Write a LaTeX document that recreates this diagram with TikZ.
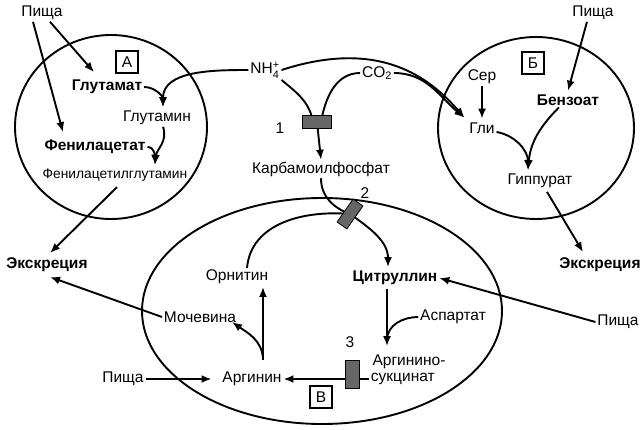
\documentclass[tikz,border=0pt]{standalone}
\usepackage{amsmath}
\usepackage{fontspec}
\setmainfont{Liberation Sans}
\usetikzlibrary{arrows.meta,backgrounds}

\begin{document}
\begin{tikzpicture}[x=1pt,y=1pt,line width=1.9pt,
	every node/.style={font=\fontsize{15.5}{17}\selectfont, inner sep=1pt},
	every on background layer/.style={line width=1.9pt},
	bld/.style={font=\fontsize{15.5}{17}\selectfont\bfseries},
	ar/.style={-{Latex[length=10pt,width=8pt]}},
	enz/.style={draw, fill=black!60, line width=0.8pt, minimum width=29pt, minimum height=13pt, inner sep=0pt},
	tag/.style={draw, line width=1.4pt, minimum size=22pt, inner sep=0pt}]
\useasboundingbox (0,0) rectangle (644,-430);

% three cells
\draw (111,-127) ellipse (96 and 92);
\draw (536,-128) ellipse (98 and 91);
\draw (322,-311) ellipse (180 and 113);

% cell A
\node (pishaA) at (42,-13) {Пища};
\node [tag] (boxA) at (127,-62) {А};
\node [bld] (glutamat) at (107,-87) {Глутамат};
\node (glutamin) at (157,-118) {Глутамин};
\node [bld] (fenilacetat) at (95,-147) {Фенилацетат};
\node [font=\fontsize{13.8}{15}\selectfont] (fag) at (115,-175) {Фенилацетилглутамин};
\node [bld] (excrL) at (47,-265) {Экскреция};

% middle
\node (nh4) at (265,-70) {NH$^{\text{+}}_{\text{4}}$};
\node (co2) at (377,-73) {CO$_{\text{2}}$};
\node [enz] (enz1) at (317,-122) {};
\node (n1) at (280,-128) {1};
\node (karb) at (321,-169) {Карбамоилфосфат};

% cell B
\node [tag] (boxB) at (533,-63) {Б};
\node (pishaB) at (593,-13) {Пища};
\node (ser) at (482,-77) {Сер};
\node (gli) at (482,-128) {Гли};
\node [bld] (benzoat) at (568,-100) {Бензоат};
\node (gippurat) at (540,-181) {Гиппурат};
\node [bld] (excrR) at (600,-265) {Экскреция};

% cell V
\node [enz, minimum width=28pt, minimum height=12pt, rotate=55] (enz2) at (350,-214) {};
\node (n2) at (365,-193) {2};
\node [bld] (citr) at (395,-278) {Цитруллин};
\node (pishaR) at (618,-322) {Пища};
\node (aspartat) at (453,-317) {Аспартат};
\node (argsuc1) at (409,-362) {Аргинино-};
\node [anchor=west] (argsuc2) at (369,-379) {сукцинат};
\node [enz, minimum width=14pt, minimum height=28pt] (enz3) at (352,-374) {};
\node (n3) at (350,-342) {3};
\node (arginin) at (252,-379) {Аргинин};
\node (pishaL) at (123,-379) {Пища};
\node (ornitin) at (237,-277) {Орнитин};
\node (mochevina) at (200,-317) {Мочевина};
\node [tag] (boxV) at (321,-397) {В};

% cell A arrows
\draw [ar] ([xshift=8pt]pishaA.south) -- ([xshift=-13pt,yshift=6pt]glutamat.north);
\draw [ar] ([xshift=-9pt]pishaA.south) -- ([xshift=-32pt,yshift=6pt]fenilacetat.north);
\draw [ar] (nh4.west) to[out=180,in=90] ([xshift=6pt,yshift=2pt]glutamin.north);
\draw [ar] (glutamat.east) to[out=0,in=90] ([xshift=6pt,yshift=2pt]glutamin.north);
\draw [ar] ([xshift=6pt]glutamin.south) to[out=-70,in=85] ([xshift=40pt,yshift=2pt]fag.north);
\draw [ar] (fenilacetat.east) to[out=0,in=90] ([xshift=40pt,yshift=2pt]fag.north);
\draw [ar] ([xshift=2pt,yshift=-4pt]fag.south) -- ([xshift=3pt,yshift=3pt]excrL.north);
\draw [ar] (mochevina.west) -- ([xshift=3pt,yshift=-3pt]excrL.south);

% middle arrows
\begin{scope}[on background layer]
\draw (nh4.south east) to[out=-40,in=100] ([xshift=-4pt]enz1.center);
\draw (co2.west) to[out=180,in=80] ([xshift=4pt]enz1.center);
\draw [ar] (enz1.center) -- (karb.north);
\draw (karb.south) to[out=-90,in=160] (enz2.center);
\draw ([xshift=10pt]ornitin.north) to[out=85,in=175] (enz2.center);
\draw [ar] (enz2.center) to[out=-35,in=90] ([xshift=-7pt,yshift=2pt]citr.north);
\draw [ar] (argsuc2.west) -- (arginin.east);
\end{scope}

% cell B arrows
\draw [ar] (nh4.east) .. controls (380,-38) and (430,-78) .. ([xshift=-3pt,yshift=3pt]gli.north west);
\draw [ar] (co2.east) to[out=0,in=140] ([xshift=-3pt,yshift=3pt]gli.north west);
\draw [ar] (ser.south) -- ([yshift=2pt]gli.north);
\draw [ar] ([yshift=-4pt]gli.east) to[out=-10,in=90] ([xshift=-12pt,yshift=2pt]gippurat.north);
\draw [ar] ([xshift=-9pt]benzoat.south) to[out=-135,in=85] ([xshift=-12pt,yshift=2pt]gippurat.north);
\draw [ar] ([xshift=-6pt]pishaB.south) -- ([yshift=2pt]benzoat.north);
\draw [ar] ([xshift=7pt,yshift=-2pt]gippurat.south) -- ([xshift=-17pt,yshift=4pt]excrR.north);

% cell V arrows
\draw [ar] (pishaR.west) -- (citr.east);
\draw [ar] ([xshift=-8pt,yshift=-2pt]citr.south) -- ([xshift=-22pt,yshift=7pt]argsuc1.north);
\draw (aspartat.west) to[out=180,in=90] ([xshift=-22pt,yshift=13pt]argsuc1.north);
\draw [ar] ([xshift=11pt,yshift=10pt]arginin.north) -- ([xshift=26pt,yshift=-1pt]ornitin.south);
\draw [ar] ([xshift=11pt,yshift=12pt]arginin.north) to[out=95,in=-35] ([xshift=-6pt,yshift=-5pt]mochevina.east);
\draw [ar] (pishaL.east) -- ([xshift=-9pt]arginin.west);
\end{tikzpicture}
\end{document}
